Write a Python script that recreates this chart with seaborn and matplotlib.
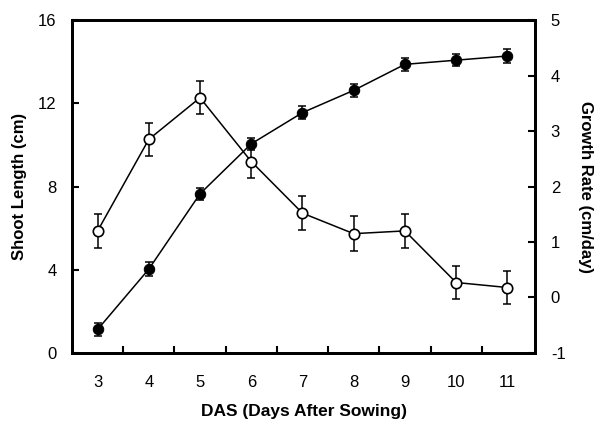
import matplotlib
matplotlib.use("Agg")
import matplotlib.pyplot as plt
import seaborn as sns
import pandas as pd
from matplotlib.ticker import MultipleLocator, FixedLocator

# Days after sowing
das = [3, 4, 5, 6, 7, 8, 9, 10, 11]

# Shoot length (cm), mean and error
shoot_length = [1.13, 4.03, 7.65, 10.05, 11.55, 12.62, 13.87, 14.07, 14.27]
shoot_err = [0.33, 0.32, 0.3, 0.3, 0.3, 0.3, 0.3, 0.3, 0.32]

# Growth rate (cm/day), mean and error
growth_rate = [1.2, 2.85, 3.6, 2.45, 1.52, 1.15, 1.2, 0.27, 0.18]
growth_err = [0.3, 0.3, 0.3, 0.3, 0.3, 0.31, 0.3, 0.3, 0.3]

df = pd.DataFrame({"DAS": das, "Shoot": shoot_length, "Growth": growth_rate})

sns.set_style("white")
plt.rcParams["font.family"] = ["Liberation Sans", "DejaVu Sans"]
plt.rcParams["axes.unicode_minus"] = False
for key in ("text.color", "axes.labelcolor", "xtick.color", "ytick.color"):
    plt.rcParams[key] = "black"

fig = plt.figure(figsize=(6.01, 4.26), dpi=100)
ax = fig.add_axes([0.1198, 0.1714, 0.7712, 0.7816])
ax2 = ax.twinx()

# Growth rate: open circles on the right axis
ax2.errorbar(das, growth_rate, yerr=growth_err, fmt="none", ecolor="black",
             elinewidth=1.1, capsize=3, capthick=1.1, zorder=2)
sns.lineplot(data=df, x="DAS", y="Growth", ax=ax2, color="black", linewidth=1.1,
             marker="o", markersize=7.5, markerfacecolor="white",
             markeredgecolor="black", markeredgewidth=1.2, zorder=3)

# Shoot length: filled circles on the left axis
ax.errorbar(das, shoot_length, yerr=shoot_err, fmt="none", ecolor="black",
            elinewidth=1.1, capsize=3, capthick=1.1, zorder=2)
sns.lineplot(data=df, x="DAS", y="Shoot", ax=ax, color="black", linewidth=1.1,
             marker="o", markersize=7.5, markerfacecolor="black",
             markeredgecolor="black", zorder=3)

# Put the left axis (filled series) above the right axis
ax.set_zorder(ax2.get_zorder() + 1)
ax.patch.set_visible(False)

ax.set_xlim(2.5, 11.55)
ax.set_ylim(0, 16)
ax2.set_ylim(-1, 5)

ax.xaxis.set_major_locator(FixedLocator(das))
ax.xaxis.set_minor_locator(FixedLocator([d + 0.5 for d in das[:-1]]))
ax.yaxis.set_major_locator(MultipleLocator(4))
ax2.yaxis.set_major_locator(MultipleLocator(1))

ax.tick_params(axis="x", which="major", length=0, pad=16, labelsize=12)
ax.tick_params(axis="x", which="minor", direction="in", length=5, width=1.5,
               top=False, bottom=True)
ax.tick_params(axis="y", direction="in", length=5, width=1.5, pad=11,
               labelsize=12)
ax2.tick_params(axis="y", direction="in", length=5, width=1.5, pad=11,
                labelsize=12)

for a in (ax, ax2):
    for s in a.spines.values():
        s.set_linewidth(2)
        s.set_color("black")

ax.set_xlabel("DAS (Days After Sowing)", fontsize=12.5, fontweight="bold",
              labelpad=10)
ax.set_ylabel("Shoot Length (cm)", fontsize=12, fontweight="bold", labelpad=8)
ax2.set_ylabel("Growth Rate (cm/day)", fontsize=12, fontweight="bold",
               rotation=-90, labelpad=20)

fig.savefig("out.png", dpi=100)
